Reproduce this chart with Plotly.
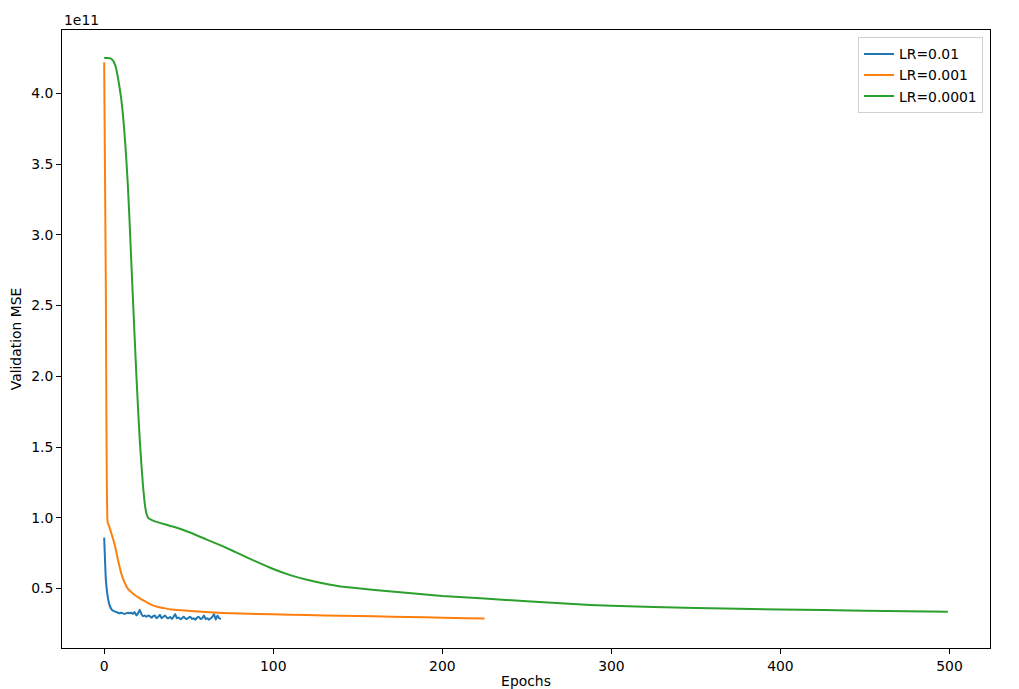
import plotly.graph_objects as go

# Values in units of 1e11
blue_epochs = list(range(70))
blue_vals = [0.86, 0.56, 0.45, 0.39, 0.36, 0.345, 0.34, 0.335, 0.33, 0.325,
             0.33, 0.325, 0.32, 0.325, 0.33, 0.325, 0.33, 0.32, 0.335, 0.31,
             0.325, 0.35, 0.32, 0.305, 0.31, 0.30, 0.31, 0.305, 0.295, 0.305,
             0.31, 0.29, 0.30, 0.315, 0.29, 0.30, 0.31, 0.295, 0.29, 0.30,
             0.285, 0.30, 0.32, 0.29, 0.295, 0.285, 0.29, 0.30, 0.29, 0.285,
             0.295, 0.30, 0.285, 0.29, 0.28, 0.295, 0.30, 0.285, 0.29, 0.31,
             0.285, 0.29, 0.28, 0.29, 0.30, 0.32, 0.28, 0.31, 0.29, 0.285]

orange_epochs = [0, 1, 2, 3, 4, 5, 6, 7, 8, 9, 10, 11, 12, 13, 14, 16, 18, 20, 22, 25,
                 28, 32, 36, 40, 45, 51, 60, 70, 81, 100, 120, 140, 160, 180, 200, 215, 225]
orange_vals = [4.22, 2.6, 0.97, 0.94, 0.90, 0.86, 0.82, 0.77, 0.71, 0.66, 0.61, 0.575,
               0.545, 0.52, 0.50, 0.475, 0.455, 0.44, 0.424, 0.405, 0.385, 0.37, 0.36,
               0.352, 0.347, 0.342, 0.335, 0.328, 0.323, 0.318, 0.313, 0.308, 0.304,
               0.299, 0.294, 0.291, 0.289]

green_epochs = [0, 2, 4, 5, 6, 7, 8, 9, 10, 11, 12, 13, 14, 15, 16, 17, 18, 19, 20, 21, 22,
                23, 24, 25, 26, 28, 30, 40, 50, 60, 70, 80, 90, 100, 110, 120, 130, 140,
                160, 180, 200, 225, 250, 275, 300, 350, 400, 450, 499]
green_vals = [4.25, 4.25, 4.245, 4.235, 4.215, 4.18, 4.12, 4.05, 3.97, 3.86, 3.72, 3.55,
              3.35, 3.10, 2.82, 2.55, 2.28, 2.02, 1.78, 1.56, 1.38, 1.22, 1.10, 1.03,
              1.00, 0.985, 0.975, 0.94, 0.90, 0.85, 0.80, 0.745, 0.69, 0.638, 0.595, 0.562,
              0.536, 0.515, 0.49, 0.468, 0.447, 0.43, 0.41, 0.392, 0.378, 0.362, 0.352,
              0.344, 0.337]

series_names = ["LR=0.01", "LR=0.001", "LR=0.0001"]
colors = ["#1f77b4", "#ff7f0e", "#2ca02c"]

ytick_vals = [0.5, 1.0, 1.5, 2.0, 2.5, 3.0, 3.5, 4.0]
ytick_text = ["0.5", "1.0", "1.5", "2.0", "2.5", "3.0", "3.5", "4.0"]
xtick_vals = [0, 100, 200, 300, 400, 500]

fig = go.Figure()
for ep, vals, name, col in [(blue_epochs, blue_vals, series_names[0], colors[0]),
                            (orange_epochs, orange_vals, series_names[1], colors[1]),
                            (green_epochs, green_vals, series_names[2], colors[2])]:
    fig.add_trace(go.Scatter(x=ep, y=vals, mode="lines", name=name,
                             line=dict(color=col, width=2, shape="spline", smoothing=0.3)))

font = dict(family="DejaVu Sans", size=13.9, color="black")
# page body has an 8px margin, so the figure is sized and offset to compensate
fig.update_layout(
    width=1011, height=681,
    margin=dict(l=54, r=29, t=22, b=41),
    plot_bgcolor="white", paper_bgcolor="white",
    font=font,
    showlegend=True,
    legend=dict(x=0.9925, y=0.988, xanchor="right", yanchor="top",
                bordercolor="#d0d0d0", borderwidth=1, bgcolor="rgba(255,255,255,0.8)",
                font=font, tracegroupgap=0),
)
fig.update_xaxes(range=[-24.95, 523.95], tickvals=xtick_vals, showgrid=False, zeroline=False,
                 showline=True, linecolor="black", linewidth=1, mirror=True,
                 ticks="outside", ticklen=5, tickcolor="black", automargin=False,
                 tickfont=font,
                 title=dict(text="Epochs", standoff=4, font=font))
fig.update_yaxes(range=[0.08, 4.448], tickvals=ytick_vals, ticktext=ytick_text, showgrid=False,
                 zeroline=False, showline=True, linecolor="black", linewidth=1, mirror=True,
                 ticks="outside", ticklen=5, tickcolor="black", automargin=False,
                 tickfont=font,
                 title=dict(text="Validation MSE", standoff=6, font=font))
fig.add_annotation(text="1e11", xref="paper", yref="paper", x=0, y=1, xanchor="left",
                   yanchor="bottom", showarrow=False, font=font, yshift=0)
fig.write_html("out.html")
